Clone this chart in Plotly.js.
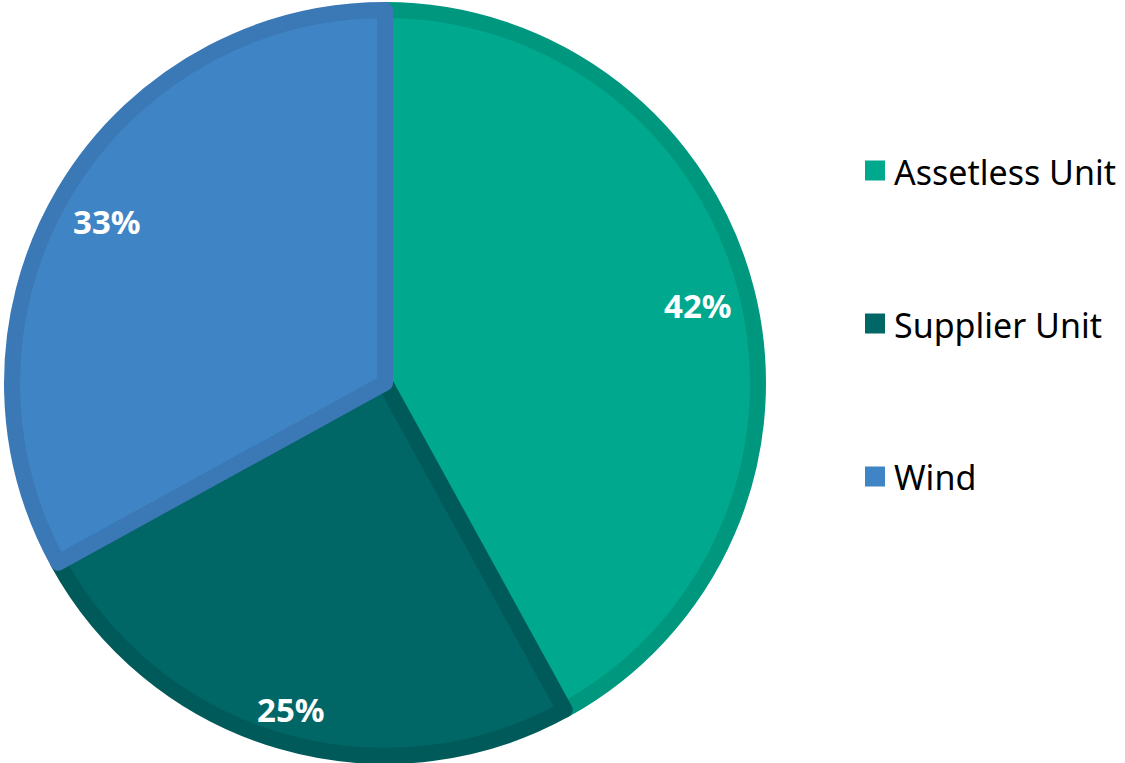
<!DOCTYPE html>
<html>
<head>
<meta charset="utf-8">
<script src="https://cdn.plot.ly/plotly-3.0.1.min.js"></script>
<style>html,body{margin:0;padding:0;background:#fff;}#chart{width:1125px;height:763px;}</style>
</head>
<body>
<div id="chart"></div>
<script>
// Data
const categories = ["Assetless Unit", "Supplier Unit", "Wind"];
const values = [42, 25, 33];
const fillColors = ["#00A88E", "#006666", "#3F84C4"];
const borderColors = ["#00977F", "#005A5A", "#3A78B6"];

const W = 1125, H = 763;
const lineW = 16;
const cx = 385, cy = 383, Rout = 381;
const Rpath = Rout - lineW / 2;

const pie = {
  type: "pie",
  labels: categories,
  values: values,
  sort: false,
  direction: "clockwise",
  rotation: 0,
  textinfo: "none",
  hoverinfo: "label+percent",
  showlegend: false,
  marker: { colors: fillColors, line: { color: borderColors, width: lineW } },
  domain: {
    x: [(cx - Rpath) / W, (cx + Rpath) / W],
    y: [1 - (cy + Rpath) / H, 1 - (cy - Rpath) / H]
  }
};

// percentage labels, placed near the outer edge at each slice's mid-angle
const total = values.reduce((a, b) => a + b, 0);
const annotations = [];
let cum = 0;
const boxW = 67, boxH = 27, edgeGap = 22;
values.forEach((v, i) => {
  const mid = (cum + v / 2) / total * 2 * Math.PI;
  cum += v;
  const s = Math.sin(mid), c = Math.cos(mid);
  const half = Math.abs(s) * boxW / 2 + Math.abs(c) * boxH / 2;
  const r = Rout - edgeGap - half;
  const px = cx + r * s, py = cy - r * c;
  annotations.push({
    xref: "paper", yref: "paper",
    x: px / W, y: 1 - (py + 3) / H,
    xanchor: "center", yanchor: "middle",
    text: Math.round(v / total * 100) + "%",
    showarrow: false,
    font: { family: "Noto Sans", size: 33, color: "#ffffff", weight: "bold" }
  });
});

// legend
const shapes = [];
const legX = 865, legTextX = 892, legY0 = 170.5, legStep = 153, sq = 20;
categories.forEach((cat, i) => {
  const y = legY0 + i * legStep;
  shapes.push({
    type: "rect", xref: "paper", yref: "paper",
    x0: legX / W, x1: (legX + sq) / W,
    y0: 1 - (y + sq / 2) / H, y1: 1 - (y - sq / 2) / H,
    fillcolor: fillColors[i], line: { width: 0 }
  });
  annotations.push({
    xref: "paper", yref: "paper",
    x: legTextX / W, y: 1 - (y + 1) / H,
    xanchor: "left", yanchor: "middle",
    text: cat, showarrow: false,
    font: { family: "Noto Sans", size: 34, color: "#000000" }
  });
});

const layout = {
  width: W, height: H,
  margin: { l: 0, r: 0, t: 0, b: 0 },
  paper_bgcolor: "#ffffff",
  showlegend: false,
  annotations: annotations,
  shapes: shapes
};

Plotly.newPlot("chart", [pie], layout, { displayModeBar: false, staticPlot: true });
</script>
</body>
</html>
